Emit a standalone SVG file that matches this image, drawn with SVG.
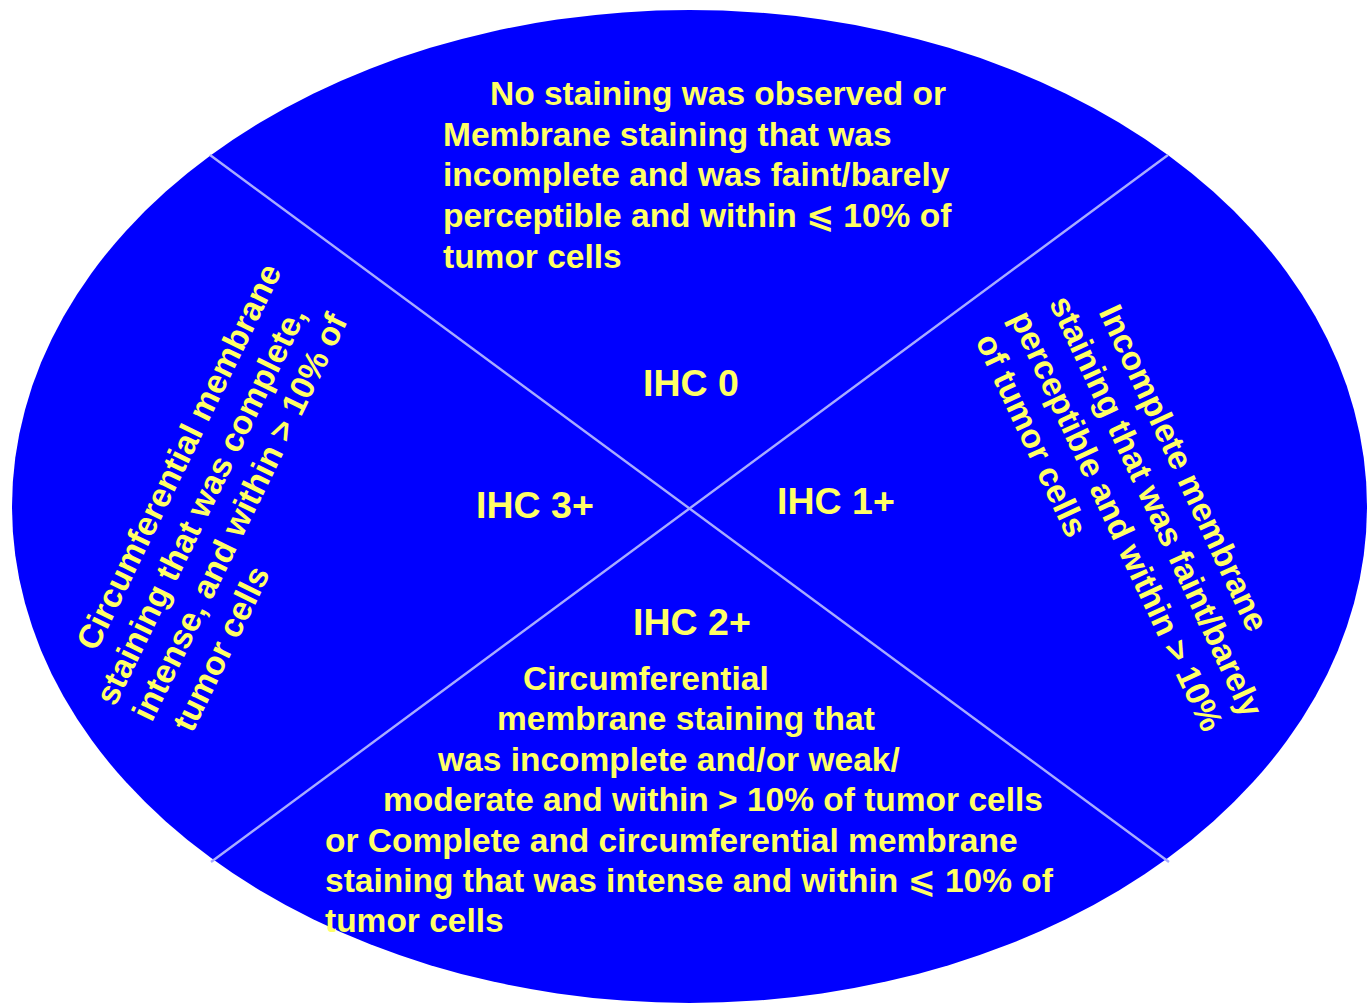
<svg xmlns="http://www.w3.org/2000/svg" width="1372" height="1006" viewBox="0 0 1372 1006">
<style>
.t{font-family:"Liberation Sans",Arial,"DejaVu Sans",sans-serif;font-weight:bold;fill:#ffff66;font-size:33.5px}
.h{font-family:"Liberation Sans",Arial,sans-serif;font-weight:bold;fill:#ffff66;font-size:37.5px;text-anchor:middle}
.div{stroke:#a8acff;stroke-width:2.4;fill:none}
</style>
<rect width="1372" height="1006" fill="#ffffff"/>
<g id="background">
<ellipse cx="689.5" cy="506.5" rx="677.5" ry="496.5" fill="#0000ff"/>
</g>
<g id="connectors">
<line class="div" x1="210" y1="155" x2="1169" y2="862"/>
<line class="div" x1="1168" y1="155" x2="211" y2="862"/>
</g>
<g id="ihc0">
<text class="t" x="490" y="105">No staining was observed or</text>
<text class="t" x="443" y="146">Membrane staining that was</text>
<text class="t" x="443" y="186">incomplete and was faint/barely</text>
<text class="t" x="443" y="227">perceptible and within ⩽ 10% of</text>
<text class="t" x="443" y="268">tumor cells</text>
<text class="h" x="691" y="396">IHC 0</text>
</g>
<g id="ihc1">
<text class="h" x="836" y="514">IHC 1+</text>
<g transform="translate(4,0) rotate(65)">
<text class="t" x="745" y="-860">Incomplete membrane</text>
<text class="t" x="716" y="-819">staining that was faint/barely</text>
<text class="t" x="713" y="-777">perceptible and within &gt; 10%</text>
<text class="t" x="719" y="-736">of tumor cells</text>
</g>
</g>
<g id="ihc2">
<text class="h" x="692" y="635">IHC 2+</text>
<text class="t" x="523" y="690">Circumferential</text>
<text class="t" x="497" y="730">membrane staining that</text>
<text class="t" x="438" y="771">was incomplete and/or weak/</text>
<text class="t" x="383" y="811">moderate and within &gt; 10% of tumor cells</text>
<text class="t" x="325" y="852">or Complete and circumferential membrane</text>
<text class="t" x="325" y="892">staining that was intense and within ⩽ 10% of</text>
<text class="t" x="325" y="932">tumor cells</text>
</g>
<g id="ihc3">
<text class="h" x="535" y="518">IHC 3+</text>
<g transform="translate(6,0) rotate(-64)">
<text class="t" x="-547" y="367">Circumferential membrane</text>
<text class="t" x="-588" y="408">staining that was complete,</text>
<text class="t" x="-586" y="448">intense, and within &gt; 10% of</text>
<text class="t" x="-578" y="489">tumor cells</text>
</g>
</g>
</svg>
